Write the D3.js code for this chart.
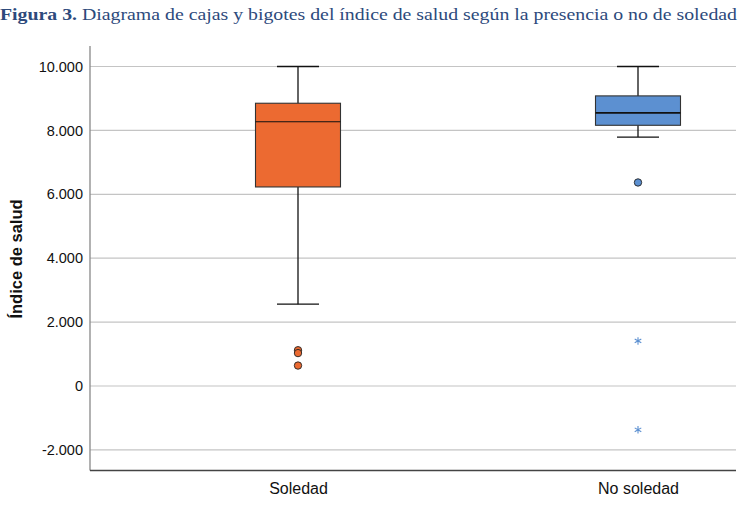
<!DOCTYPE html>
<html><head><meta charset="utf-8">
<script src="https://cdn.jsdelivr.net/npm/d3@7"></script>
<style>body{margin:0;background:#fff}svg{display:block}</style>
</head><body>
<svg id="c" width="744" height="517"></svg>
<script>
const categories = ["Soledad", "No soledad"];
const whiskerLow  = [2.56, 7.79];
const q1          = [6.23, 8.16];
const median      = [8.27, 8.55];
const q3          = [8.85, 9.08];
const whiskerHigh = [10.0, 10.0];
const outliers    = [[1.12, 1.03, 0.64], [6.37]];
const extremes    = [[], [1.41, -1.37]];
const yTicks = [-2, 0, 2, 4, 6, 8, 10];
const colors = ["#ec6a31", "#5c90d1"];

const svg = d3.select("#c");
const m = {l: 90, r: 736, t: 46, b: 470.5};
const y = d3.scaleLinear().domain([0, 10]).range([386, 66.5]);
const x = d3.scalePoint().domain(categories).range([298, 638]);

// title
const t = svg.append("text").attr("x", 0).attr("y", 20)
  .attr("font-family", "Liberation Serif, serif").attr("font-size", 17.5).attr("fill", "#2d4a7c");
t.append("tspan").attr("font-weight", "bold").text("Figura 3.");
t.append("tspan").text(" Diagrama de cajas y bigotes del índice de salud según la presencia o no de soledad");
t.attr("textLength", 737).attr("lengthAdjust", "spacingAndGlyphs");

// y axis tick labels
const fmt = d => d === 0 ? "0" : d3.format(",")(d * 1000).replace(/,/g, ".").replace("\u2212", "-");
const yAxis = d3.axisLeft(y).tickValues(yTicks).tickSize(0).tickPadding(7).tickFormat(fmt);
const ga = svg.append("g").attr("transform", `translate(${m.l},0)`).call(yAxis);
ga.select(".domain").remove();
ga.selectAll("text").attr("font-family", "Liberation Sans, Arial, sans-serif").attr("font-size", 14.5).attr("fill", "#111");

// grid
svg.append("g").selectAll("line").data(yTicks).join("line")
  .attr("x1", m.l).attr("x2", m.r).attr("y1", d => y(d)).attr("y2", d => y(d))
  .attr("stroke", "#c4c4c4").attr("stroke-width", 1.2);

// axes lines
svg.append("line").attr("x1", m.l).attr("x2", m.l).attr("y1", m.t).attr("y2", m.b).attr("stroke", "#888").attr("stroke-width", 1.3);
svg.append("line").attr("x1", m.l).attr("x2", m.r).attr("y1", m.b).attr("y2", m.b).attr("stroke", "#444").attr("stroke-width", 1.3);

// x labels
const xAxis = d3.axisBottom(x).tickSize(0).tickPadding(12);
const gx = svg.append("g").attr("transform", `translate(0,${m.b})`).call(xAxis);
gx.select(".domain").remove();
gx.selectAll("text").attr("font-family", "Liberation Sans, Arial, sans-serif").attr("font-size", 16).attr("fill", "#111");

// y label
svg.append("text").attr("transform", "translate(22,259) rotate(-90)").attr("text-anchor", "middle")
  .attr("font-family", "Liberation Sans, Arial, sans-serif").attr("font-size", 16.5).attr("font-weight", "bold")
  .attr("fill", "#111").text("Índice de salud");

// boxes
const boxW = 85, capW = 42;
categories.forEach((c, i) => {
  const cx = x(c);
  const g = svg.append("g");
  g.append("line").attr("x1", cx).attr("x2", cx).attr("y1", y(whiskerHigh[i])).attr("y2", y(q3[i])).attr("stroke", "#111").attr("stroke-width", 1.3);
  g.append("line").attr("x1", cx).attr("x2", cx).attr("y1", y(q1[i])).attr("y2", y(whiskerLow[i])).attr("stroke", "#111").attr("stroke-width", 1.3);
  [whiskerHigh[i], whiskerLow[i]].forEach(v => g.append("line").attr("x1", cx - capW / 2).attr("x2", cx + capW / 2)
    .attr("y1", y(v)).attr("y2", y(v)).attr("stroke", "#111").attr("stroke-width", 1.3));
  g.append("rect").attr("x", cx - boxW / 2).attr("width", boxW).attr("y", y(q3[i])).attr("height", y(q1[i]) - y(q3[i]))
    .attr("fill", colors[i]).attr("stroke", "#333").attr("stroke-width", 1.1);
  g.append("line").attr("x1", cx - boxW / 2).attr("x2", cx + boxW / 2).attr("y1", y(median[i])).attr("y2", y(median[i]))
    .attr("stroke", "#111").attr("stroke-width", i === 0 ? 1.2 : 1.8);
  g.selectAll("circle").data(outliers[i]).join("circle").attr("cx", cx).attr("cy", d => y(d)).attr("r", 3.7)
    .attr("fill", colors[i]).attr("stroke", "#222").attr("stroke-width", 0.9);
  g.selectAll("path.ext").data(extremes[i]).join("path").attr("class", "ext")
    .attr("transform", d => `translate(${cx},${y(d)})`)
    .attr("d", d3.symbol(d3.symbolAsterisk, 40))
    .attr("fill", "none").attr("stroke", colors[i]).attr("stroke-width", 1.1);
});
</script>
</body></html>
